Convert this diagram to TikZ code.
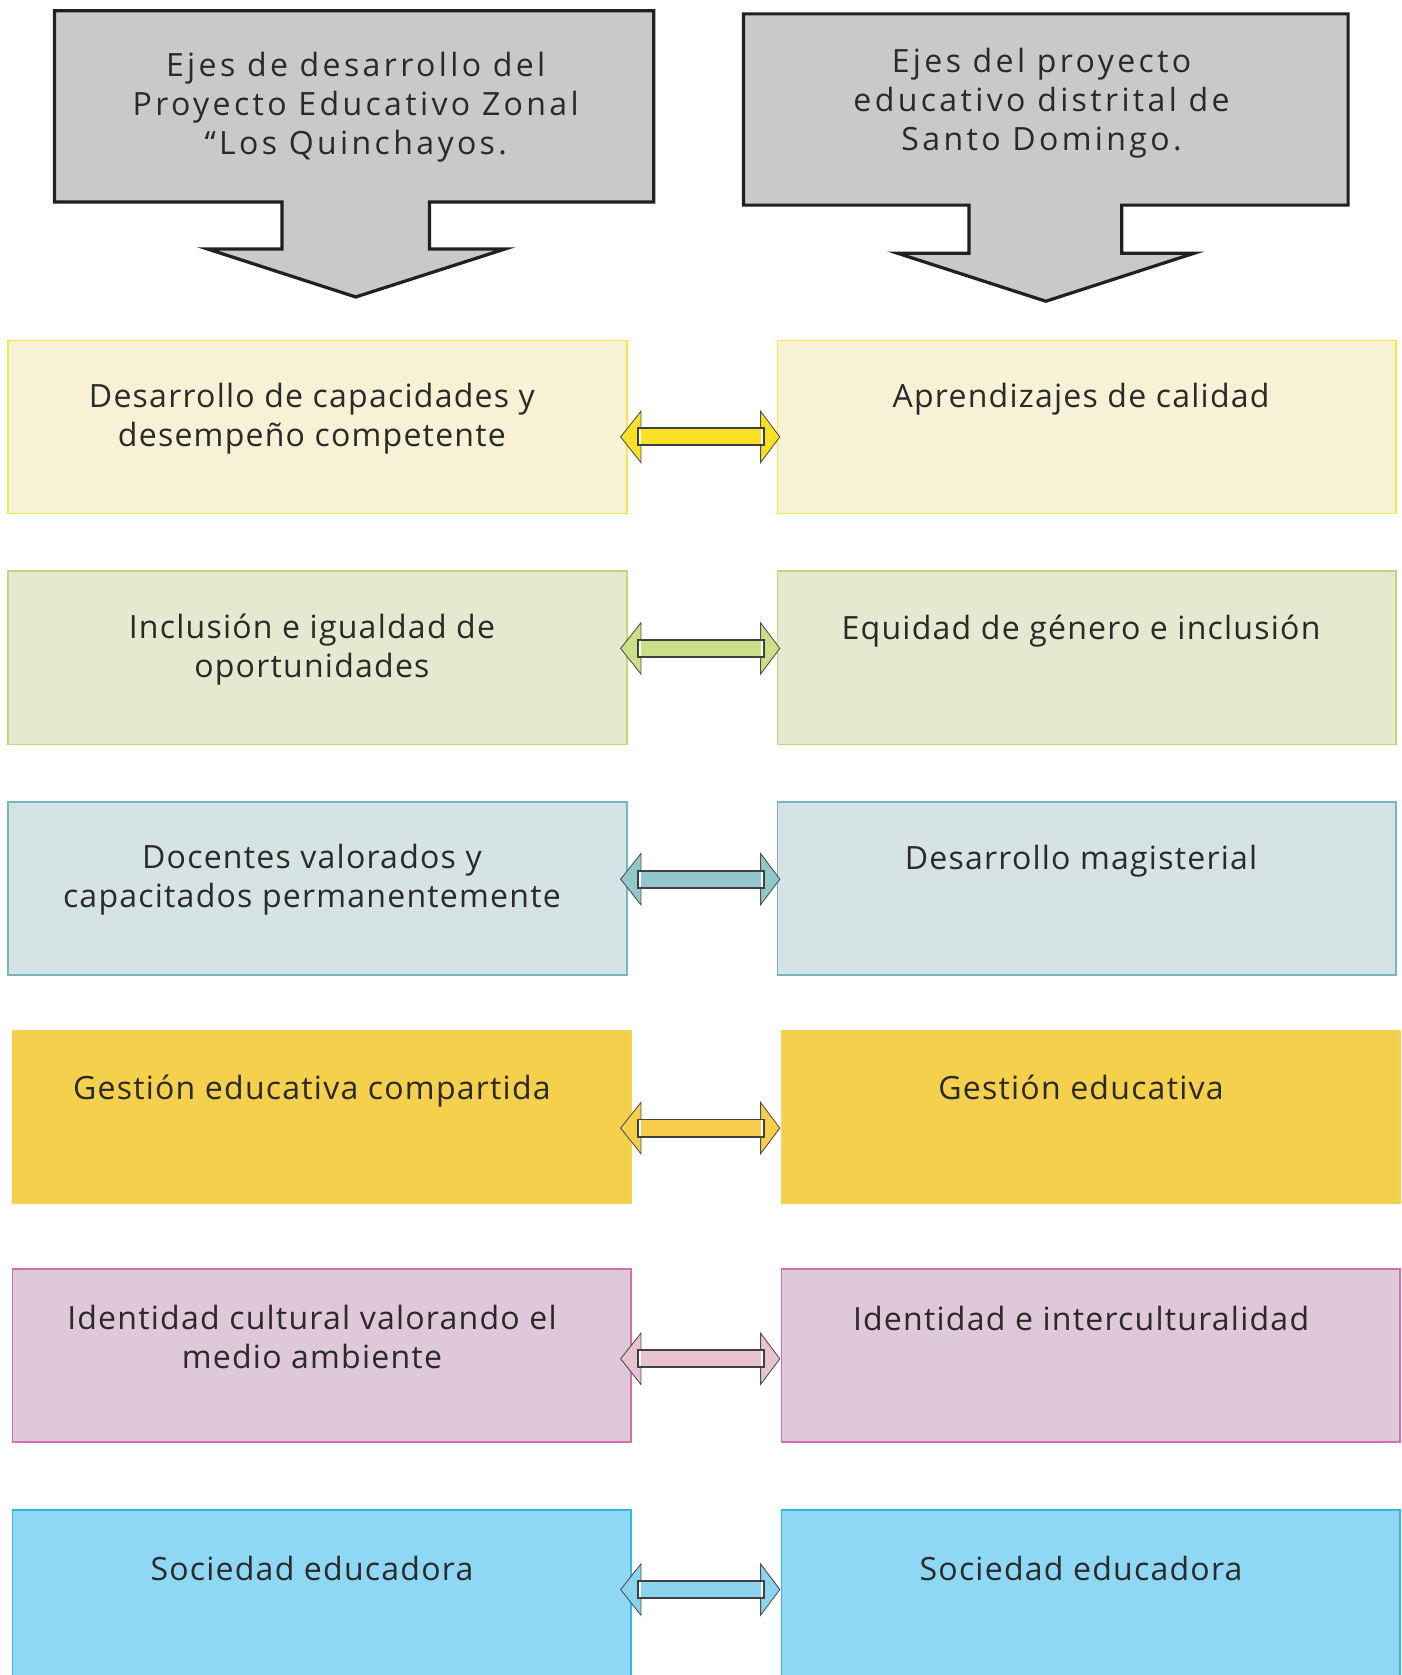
\documentclass[tikz,border=0pt]{standalone}
\usepackage{fontspec}
\setmainfont[LetterSpace=3.8]{Open Sans}
\newfontfamily\topfont[LetterSpace=10.5]{Open Sans}
\usetikzlibrary{calc}
\definecolor{txt}{HTML}{2B2A29}
\definecolor{topfill}{HTML}{C8C9CB}
\definecolor{topline}{HTML}{231F20}
\definecolor{fA}{HTML}{F7F2D6}\definecolor{bA}{HTML}{F3E74B}\definecolor{aA}{HTML}{FAE125}
\definecolor{fB}{HTML}{E6E8D0}\definecolor{bB}{HTML}{C3D67A}\definecolor{aB}{HTML}{CDDE88}
\definecolor{fC}{HTML}{D5E3E4}\definecolor{bC}{HTML}{74B8BE}\definecolor{aC}{HTML}{92C8CB}
\definecolor{fD}{HTML}{F5D04C}\definecolor{bD}{HTML}{F5D352}\definecolor{aD}{HTML}{F6CE4B}
\definecolor{fE}{HTML}{DFC8D9}\definecolor{bE}{HTML}{D46FAA}\definecolor{aE}{HTML}{E8C3CF}
\definecolor{fF}{HTML}{8ED8F6}\definecolor{bF}{HTML}{34B6E6}\definecolor{aF}{HTML}{8CD4EE}
\tikzset{
  axisbox/.style={rectangle, anchor=north west, inner sep=0pt, line width=0.75pt,
    minimum width=289.5pt, minimum height=81pt},
  lbl/.style={anchor=base, align=center, inner sep=0pt, text=txt,
    font=\fontsize{15}{18.25}\selectfont},
  toplbl/.style={lbl, font=\topfont\fontsize{15}{18.25}\selectfont},
  toparrow/.style={fill=topfill, draw=topline, line width=1.5pt, line join=miter},
  headline/.style={draw=black!70, line width=0.4pt},
  shaftline/.style={draw=black!75, line width=0.9pt}
}
\newcommand\dblarr[3]{%
  \coordinate (#1l) at (581,#2);
  \coordinate (#1r) at (730,#2);
  \fill[#3] (#1l) -- ($(#1l)+(19,-24)$) -- ($(#1l)+(19,24)$) -- cycle;
  \fill[#3] (#1r) -- ($(#1r)+(-18,-24)$) -- ($(#1r)+(-18,24)$) -- cycle;
  \fill[#3] ($(#1l)+(19,-8)$) rectangle ($(#1r)+(-18,8)$);
  \fill[white] ($(#1l)+(16,-8)$) rectangle ($(#1l)+(19,8)$);
  \fill[white] ($(#1r)+(-18,-8)$) rectangle ($(#1r)+(-15,8)$);
  \draw[headline] ($(#1l)+(19,-8)$) -- ($(#1l)+(19,-24)$) -- (#1l) -- ($(#1l)+(19,24)$) -- ($(#1l)+(19,8)$);
  \draw[headline] ($(#1r)+(-18,-8)$) -- ($(#1r)+(-18,-24)$) -- (#1r) -- ($(#1r)+(-18,24)$) -- ($(#1r)+(-18,8)$);
  \draw[shaftline] ($(#1l)+(16,-8)$) rectangle ($(#1r)+(-15,8)$);
}
\begin{document}
\begin{tikzpicture}[x=0.5pt,y=-0.5pt]
\useasboundingbox (0,0) rectangle (1312,1568);

% top block arrows
\draw[toparrow] (51,10) -- (612,10) -- (612,189) -- (402,189) -- (402,233) -- (473,233)
  -- (333,278) -- (194,233) -- (264,233) -- (264,189) -- (51,189) -- cycle;
\node[toplbl] (tl) at (333,144.5) {Ejes de desarrollo del\\Proyecto Educativo Zonal\\“Los Quinchayos.};
\draw[toparrow] (696,13) -- (1262,13) -- (1262,192) -- (1050,192) -- (1050,237) -- (1118,237)
  -- (979,282) -- (840,237) -- (907,237) -- (907,192) -- (696,192) -- cycle;
\node[toplbl] (tr) at (975,140.5) {Ejes del proyecto\\educativo distrital de\\Santo Domingo.};

% row 1
\node[axisbox, fill=fA, draw=bA] (L1) at (7,318) {};
\node[axisbox, fill=fA, draw=bA] (R1) at (727,318) {};
\node[lbl] (L1t) at (292,418) {Desarrollo de capacidades y\\desempeño competente};
\node[lbl] (R1t) at (1012,381.5) {Aprendizajes de calidad};
\dblarr{a1}{409}{aA}

% row 2
\node[axisbox, fill=fB, draw=bB] (L2) at (7,534) {};
\node[axisbox, fill=fB, draw=bB] (R2) at (727,534) {};
\node[lbl] (L2t) at (292,634.5) {Inclusión e igualdad de\\oportunidades};
\node[lbl] (R2t) at (1012,598.5) {Equidad de género e inclusión};
\dblarr{a2}{607}{aB}

% row 3
\node[axisbox, fill=fC, draw=bC] (L3) at (7,750) {};
\node[axisbox, fill=fC, draw=bC] (R3) at (727,750) {};
\node[lbl] (L3t) at (292,849.5) {Docentes valorados y\\capacitados permanentemente};
\node[lbl] (R3t) at (1012,813.5) {Desarrollo magisterial};
\dblarr{a3}{823}{aC}

% row 4
\node[axisbox, fill=fD, draw=bD] (L4) at (11,964) {};
\node[axisbox, fill=fD, draw=bD] (R4) at (731,964) {};
\node[lbl] (L4t) at (292,1029.5) {Gestión educativa compartida};
\node[lbl] (R4t) at (1012,1029.5) {Gestión educativa};
\dblarr{a4}{1056}{aD}

% row 5
\node[axisbox, fill=fE, draw=bE] (L5) at (11,1187) {};
\node[axisbox, fill=fE, draw=bE] (R5) at (731,1187) {};
\node[lbl] (L5t) at (292,1281.5) {Identidad cultural valorando el\\medio ambiente};
\node[lbl] (R5t) at (1012,1245.5) {Identidad e interculturalidad};
\dblarr{a5}{1272}{aE}

% row 6
\node[axisbox, fill=fF, draw=bF] (L6) at (11,1413) {};
\node[axisbox, fill=fF, draw=bF] (R6) at (731,1413) {};
\node[lbl] (L6t) at (292,1479.5) {Sociedad educadora};
\node[lbl] (R6t) at (1012,1479.5) {Sociedad educadora};
\dblarr{a6}{1488}{aF}
\end{tikzpicture}
\end{document}
